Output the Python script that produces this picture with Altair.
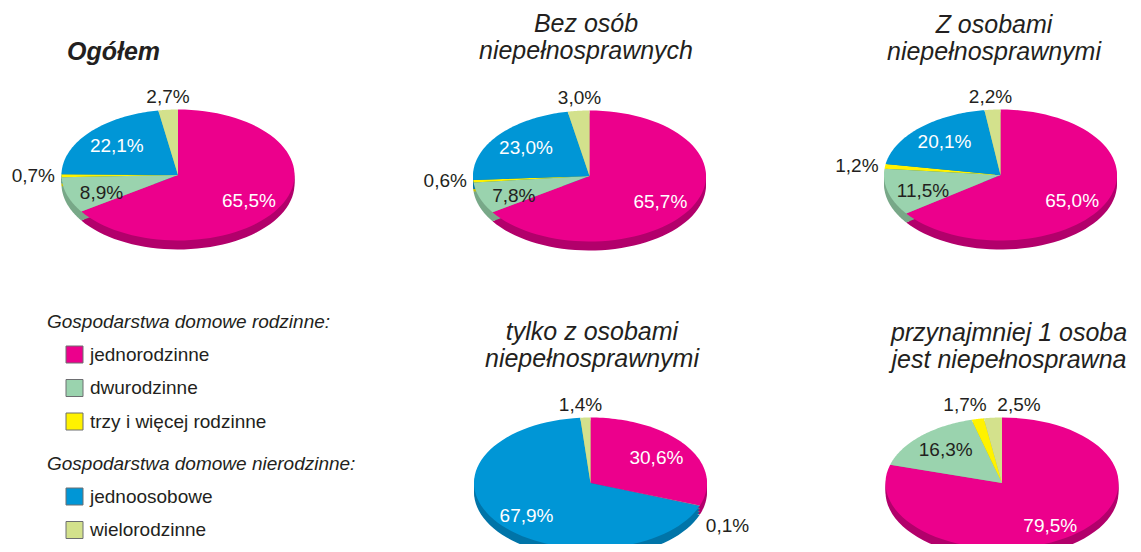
import altair as alt
import pandas as pd

# ---------------- data ----------------
PANELS = ["Ogółem", "Bez osób niepełnosprawnych", "Z osobami niepełnosprawnymi",
          "tylko z osobami niepełnosprawnymi", "przynajmniej 1 osoba jest niepełnosprawna"]
TITLES = ["Ogółem", "Bez osób\nniepełnosprawnych", "Z osobami\nniepełnosprawnymi",
          "tylko z osobami\nniepełnosprawnymi", "przynajmniej 1 osoba\njest niepełnosprawna"]
CATEGORIES = ["jednorodzinne", "dwurodzinne", "trzy i więcej rodzinne", "jednoosobowe", "wielorodzinne"]
FAMILY = CATEGORIES[:3]
NONFAMILY = CATEGORIES[3:]
LEGEND_TITLES = ["Gospodarstwa domowe rodzinne:", "Gospodarstwa domowe nierodzinne:"]

OGOLEM = [65.5, 8.9, 0.7, 22.1, 2.7]
BEZ_OSOB = [65.7, 7.8, 0.6, 23.0, 3.0]
Z_OSOBAMI = [65.0, 11.5, 1.2, 20.1, 2.2]
TYLKO_Z = [30.6, 0.1, 0.0, 67.9, 1.4]
PRZYNAJMNIEJ_1 = [79.5, 16.3, 1.7, 0.0, 2.5]
VALUES = [OGOLEM, BEZ_OSOB, Z_OSOBAMI, TYLKO_Z, PRZYNAJMNIEJ_1]

# ---------------- styles / layout ----------------
COLORS = ["#EC008C", "#9AD3AE", "#FFF200", "#0096D6", "#D3E18C"]
RIM_COLORS = ["#B2006B", "#78A888", "#C8BE00", "#0074A8", "#A8B46C"]
TEXT = "#231F20"
FONT = "Liberation Sans"
W, H = 1125, 536
CX = [170, 581.5, 992.5, 582.5, 994]
CY = [167, 168, 167, 475, 475]
TITLE_X = [59, 578, 986, 584, 1001]
TITLE_Y = [52, 24, 24.5, 331.5, 332.5]
RX, RY, N = 116.5, 65.5, 72

rows = []
for p, vals in enumerate(VALUES):
    for c, v in enumerate(vals):
        rows.append({"panel": PANELS[p], "pidx": p, "category": CATEGORIES[c], "cidx": c,
                     "value": v, "label": f"{v:.1f}%".replace(".", ",")})
df = pd.DataFrame(rows)
tdf = pd.DataFrame({"pidx": list(range(len(TITLES))), "title": TITLES})

xs = alt.Scale(domain=[0, W], nice=False, zero=False)
ys = alt.Scale(domain=[0, H], nice=False, zero=False, reverse=True)
X = lambda f: alt.X(f, type="quantitative", scale=xs, axis=None)
Y = lambda f: alt.Y(f, type="quantitative", scale=ys, axis=None)

base = alt.Chart(df).transform_joinaggregate(
    total="sum(value)", groupby=["pidx"]
).transform_window(
    cum="sum(value)", groupby=["pidx"], sort=[alt.SortField("cidx", order="ascending")], frame=[None, 0]
).transform_filter("datum.value > 0").transform_calculate(
    a0="2*PI*(datum.cum - datum.value)/datum.total",
    a1="2*PI*datum.cum/datum.total",
    am="(datum.a0 + datum.a1)/2",
    cx=f"{CX}[datum.pidx]",
    cy=f"{CY}[datum.pidx]",
)


def sector(ch, rim=False):
    ch = ch.transform_calculate(steps=f"sequence(0, {N + 3})").transform_flatten(["steps"], as_=["i"])
    if rim:
        ch = ch.transform_calculate(dzs="[3, 6, 9]").transform_flatten(["dzs"], as_=["dz"])
    else:
        ch = ch.transform_calculate(dz="0")
    return ch.transform_calculate(
        t=f"clamp((datum.i - 1)/{N}, 0, 1)",
        th="datum.a0 + (datum.a1 - datum.a0)*datum.t",
        edge=f"datum.i > 0 && datum.i < {N + 2}",
        px=f"datum.edge ? datum.cx + {RX}*sin(datum.th) : datum.cx",
        py=f"(datum.edge ? datum.cy - {RY}*cos(datum.th) : datum.cy) + datum.dz",
    )


def legend(title, y):
    return alt.Legend(
        title=title, orient="none", legendX=39, legendY=y,
        titleFont=FONT, titleFontSize=19, titleFontStyle="italic", titleFontWeight="normal",
        titleColor=TEXT, titlePadding=13, labelFont=FONT, labelFontSize=19, labelColor=TEXT,
        labelOffset=6, symbolType="square", symbolSize=289, symbolOffset=18,
        symbolStrokeColor="#6D6E71", symbolStrokeWidth=1, rowPadding=12.5, padding=0,
        labelLimit=400, titleLimit=500,
    )


rim = sector(base, rim=True).mark_line(filled=True).encode(
    x=X("px"), y=Y("py"), order=alt.Order("i:Q"), detail=["pidx:N", "dz:Q"],
    color=alt.Color("category:N", scale=alt.Scale(domain=CATEGORIES, range=RIM_COLORS), legend=None),
)
face_fam = sector(base.transform_filter("datum.cidx < 3")).mark_line(filled=True).encode(
    x=X("px"), y=Y("py"), order=alt.Order("i:Q"), detail="pidx:N",
    color=alt.Color("category:N", scale=alt.Scale(domain=FAMILY, range=COLORS[:3]),
                    legend=legend(LEGEND_TITLES[0], 305)),
)
face_non = sector(base.transform_filter("datum.cidx >= 3")).mark_line(filled=True).encode(
    x=X("px"), y=Y("py"), order=alt.Order("i:Q"), detail="pidx:N",
    color=alt.Color("category:N", scale=alt.Scale(domain=NONFAMILY, range=COLORS[3:]),
                    legend=legend(LEGEND_TITLES[1], 447)),
)

txt = dict(font=FONT, fontSize=19, baseline="middle")

inside = base.transform_filter("datum.value >= 5").transform_calculate(
    lx=f"datum.cx + 0.69*{RX}*sin(datum.am)",
    ly=f"datum.cy - 0.76*{RY}*cos(datum.am) + 3",
).mark_text(align="center", **txt).encode(
    x=X("lx"), y=Y("ly"), text="label:N",
    color=alt.condition("datum.cidx == 0 || datum.cidx == 3", alt.value("white"), alt.value(TEXT)),
)

top_out = base.transform_filter("datum.value < 5 && cos(datum.am) > 0.8").transform_joinaggregate(
    n="count()", groupby=["pidx"]
).transform_window(
    k="row_number()", groupby=["pidx"], sort=[alt.SortField("cidx", order="ascending")]
).transform_calculate(
    lx="datum.cx - 10 + (datum.k - 1 - (datum.n - 1)/2)*54",
    ly=f"datum.cy - {RY} - 13",
).mark_text(align="center", color=TEXT, **txt).encode(x=X("lx"), y=Y("ly"), text="label:N")

side_calc = dict(
    lx=f"datum.cx + sin(datum.am)*({RX} + 6.5)",
    ly=f"datum.cy - cos(datum.am)*{RY} + (cos(datum.am) < -0.2 ? 20 : 0)",
)
side_left = base.transform_filter(
    "datum.value < 5 && cos(datum.am) <= 0.8 && sin(datum.am) < 0"
).transform_calculate(**side_calc).mark_text(align="right", color=TEXT, **txt).encode(
    x=X("lx"), y=Y("ly"), text="label:N")
side_right = base.transform_filter(
    "datum.value < 5 && cos(datum.am) <= 0.8 && sin(datum.am) >= 0"
).transform_calculate(**side_calc).mark_text(align="left", color=TEXT, **txt).encode(
    x=X("lx"), y=Y("ly"), text="label:N")

tbase = alt.Chart(tdf).transform_calculate(
    tx=f"{TITLE_X}[datum.pidx]", ty=f"{TITLE_Y}[datum.pidx]"
)
ttxt = dict(font=FONT, fontSize=25, fontStyle="italic", color=TEXT, baseline="alphabetic",
            lineBreak="\n", lineHeight=27)
title_main = tbase.transform_filter("datum.pidx == 0").mark_text(
    align="left", fontWeight="bold", **ttxt).encode(x=X("tx"), y=Y("ty"), text="title:N")
title_rest = tbase.transform_filter("datum.pidx > 0").mark_text(
    align="center", **ttxt).encode(x=X("tx"), y=Y("ty"), text="title:N")

chart = alt.layer(
    rim, face_fam, face_non, inside, top_out, side_left, side_right, title_main, title_rest
).resolve_scale(color="independent").properties(
    width=W, height=H, padding=0, autosize=alt.AutoSizeParams(type="none"),
).configure_view(stroke=None)

chart.save("out.html", embed_options={"renderer": "svg", "actions": False})
